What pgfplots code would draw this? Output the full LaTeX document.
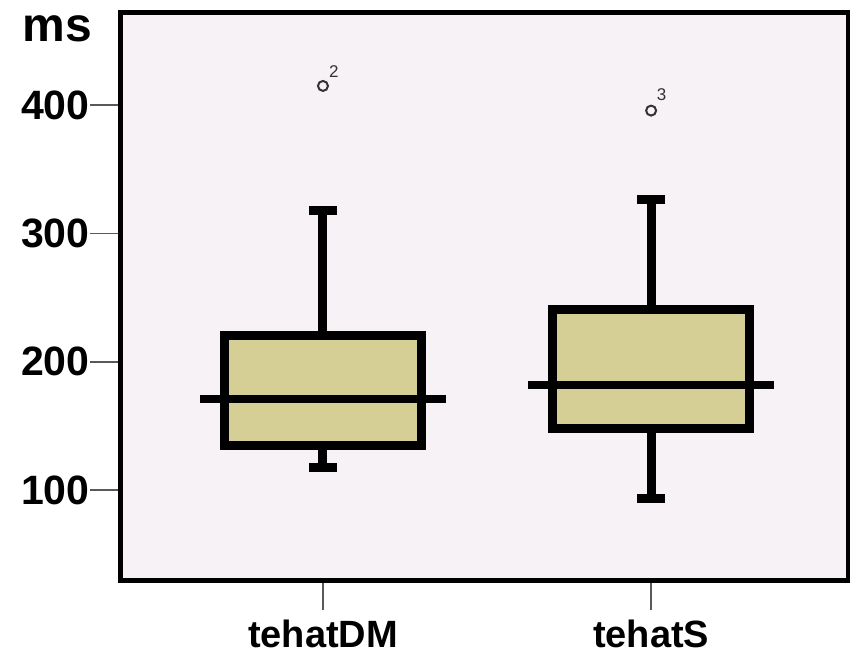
\documentclass[border=0pt]{standalone}
\usepackage{pgfplots}
\pgfplotsset{compat=1.18}
\usepackage{fontspec}
\setmainfont{Liberation Sans}
\definecolor{bgcol}{RGB}{246,242,246}
\definecolor{boxfill}{RGB}{213,207,149}
\begin{document}
\begin{tikzpicture}
\begin{axis}[
  scale only axis, width=363.75pt, height=283.75pt,
  xmin=0.383, xmax=2.6, ymin=30, ymax=472,
  xtick={1,2}, xticklabels={tehatDM,tehatS},
  ytick={100,200,300,400}, yticklabels={100,200,300,400},
  tick pos=left, tick align=outside, major tick length=15pt,
  tick style={draw=black!65, line width=0.8pt},
  axis line style={line width=2.5pt},
  axis background/.style={fill=bgcol},
  ticklabel style={font=\fontsize{19}{22}\selectfont\bfseries},
  yticklabel style={font=\fontsize{20.5}{22}\selectfont\bfseries, xshift=3pt},
  xticklabel style={yshift=-1.5pt},
  clip=false,
]
% whiskers
\addplot[black, line width=4.5pt, forget plot] coordinates {(1,220.2) (1,317.9)};
\addplot[black, line width=4.5pt, forget plot] coordinates {(0.958,317.9) (1.042,317.9)};
\addplot[black, line width=4.5pt, forget plot] coordinates {(1,135.1) (1,117.4)};
\addplot[black, line width=4.5pt, forget plot] coordinates {(0.958,117.4) (1.042,117.4)};
\addplot[black, line width=4.5pt, forget plot] coordinates {(2,240.8) (2,326.0)};
\addplot[black, line width=4.5pt, forget plot] coordinates {(1.958,326.0) (2.042,326.0)};
\addplot[black, line width=4.5pt, forget plot] coordinates {(2,148.1) (2,93.5)};
\addplot[black, line width=4.5pt, forget plot] coordinates {(1.958,93.5) (2.042,93.5)};
% boxes
\addplot[draw=black, fill=boxfill, line width=4.5pt, line join=miter, forget plot] coordinates {(0.7,135.1) (1.3,135.1) (1.3,220.2) (0.7,220.2)} -- cycle;
\addplot[draw=black, fill=boxfill, line width=4.5pt, line join=miter, forget plot] coordinates {(1.7,148.1) (2.3,148.1) (2.3,240.8) (1.7,240.8)} -- cycle;
% medians
\addplot[black, line width=4pt, forget plot] coordinates {(0.625,170.9) (1.375,170.9)};
\addplot[black, line width=4pt, forget plot] coordinates {(1.625,181.8) (2.375,181.8)};
% outliers
\addplot[only marks, mark=o, mark size=2.5pt, mark options={draw=black!80, line width=1pt}] coordinates {(1,414.8) (2,395.6)};
\node[font=\fontsize{8.5}{10}\selectfont, text=black!80, xshift=5.4pt, yshift=7.2pt] at (axis cs:1,414.8) {2};
\node[font=\fontsize{8.5}{10}\selectfont, text=black!80, xshift=5.2pt, yshift=7.8pt] at (axis cs:2,395.6) {3};
\end{axis}
\node[anchor=base west, inner sep=0pt, font=\fontsize{24}{26}\selectfont\bfseries] at (-49.25pt,269pt) {ms};
\pgfresetboundingbox
\path[use as bounding box] (-60.25pt,-39pt) rectangle (364.75pt,290pt);
\end{tikzpicture}
\end{document}
